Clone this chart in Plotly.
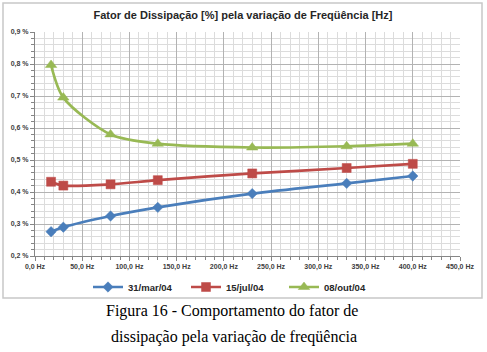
import plotly.graph_objects as go

freq = [17, 30, 80, 130, 230, 330, 400]
mar04 = [0.276, 0.290, 0.325, 0.352, 0.395, 0.427, 0.450]
jul04 = [0.432, 0.420, 0.424, 0.437, 0.458, 0.475, 0.488]
out04 = [0.797, 0.695, 0.580, 0.551, 0.539, 0.543, 0.551]
series_names = ["31/mar/04", "15/jul/04", "08/out/04"]
colors = ["#4A7EBB", "#BE4B48", "#98B954"]
marker_syms = ["diamond", "square", "triangle-up"]
marker_sizes = [8, 9, 10]
xticks = [0, 50, 100, 150, 200, 250, 300, 350, 400, 450]
xtick_text = ["0,0 Hz", "50,0 Hz", "100,0 Hz", "150,0 Hz", "200,0 Hz", "250,0 Hz",
              "300,0 Hz", "350,0 Hz", "400,0 Hz", "450,0 Hz"]
yticks = [0.2, 0.3, 0.4, 0.5, 0.6, 0.7, 0.8, 0.9]
ytick_text = ["0,2 %", "0,3 %", "0,4 %", "0,5 %", "0,6 %", "0,7 %", "0,8 %", "0,9 %"]

W, H = 487, 352
L, R, T, B = 35, 460, 32, 256  # plot area pixels

def px(x):
    return (x - L) / (R - L)

def py(y):
    return (B - y) / (B - T)

fig = go.Figure()
for ys, name, c, s, ms in zip([mar04, jul04, out04], series_names, colors, marker_syms, marker_sizes):
    fig.add_trace(go.Scatter(
        x=freq, y=ys, name=name, mode="lines+markers",
        line=dict(color=c, width=2.7, shape="spline", smoothing=0.8),
        marker=dict(symbol=s, size=ms, color=c, line=dict(color=c, width=0.5)),
    ))

fig.update_layout(
    width=W, height=H,
    margin=dict(l=L, r=W - R, t=T, b=H - B),
    paper_bgcolor="white", plot_bgcolor="white",
    title=dict(text="<b>Fator de Dissipação [%] pela variação de Freqüência [Hz]</b>",
               x=(243) / W, xanchor="center", y=1 - 15 / H, yanchor="middle",
               font=dict(family="Liberation Sans", size=11, color="#262626")),
    showlegend=True,
    legend=dict(orientation="h", x=px(88), xanchor="left", y=py(287), yanchor="middle",
                font=dict(family="Liberation Sans", size=9.5, color="#262626", weight="bold"),
                bgcolor="rgba(0,0,0,0)", itemwidth=30, entrywidth=53),
    font=dict(family="Liberation Sans"),
)

fig.update_xaxes(
    range=[0, 450], tickvals=xticks, ticktext=xtick_text,
    tickfont=dict(size=7, color="#404040", family="Liberation Sans", weight="bold"),
    showgrid=True, gridcolor="#B3B3B3", gridwidth=1,
    showline=True, linecolor="#868686", linewidth=1,
    ticks="outside", ticklen=4, tickcolor="#868686",
    minor=dict(dtick=10, showgrid=True, gridcolor="#DCDCDC", ticks="outside", ticklen=3, tickcolor="#868686"),
    zeroline=False, mirror=False,
)
fig.update_yaxes(
    range=[0.2, 0.9], tickvals=yticks, ticktext=ytick_text,
    tickfont=dict(size=7, color="#404040", family="Liberation Sans", weight="bold"),
    showgrid=True, gridcolor="#B3B3B3", gridwidth=1,
    showline=True, linecolor="#868686", linewidth=1,
    ticks="outside", ticklen=4, tickcolor="#868686",
    minor=dict(dtick=0.02, showgrid=True, gridcolor="#DCDCDC", ticks="outside", ticklen=3, tickcolor="#868686"),
    zeroline=False,
)

# chart border
fig.add_shape(type="rect", xref="paper", yref="paper",
              x0=px(3), x1=px(482), y0=py(298), y1=py(3),
              line=dict(color="#C8C8C8", width=1.5), layer="below")

# caption
fig.add_annotation(text="Figura 16 - Comportamento do fator de", xref="paper", yref="paper",
                   x=px(232), y=py(311), xanchor="center", yanchor="middle", showarrow=False,
                   font=dict(family="Liberation Serif", size=16, color="black"))
fig.add_annotation(text="dissipação pela variação de freqüência", xref="paper", yref="paper",
                   x=px(234), y=py(337), xanchor="center", yanchor="middle", showarrow=False,
                   font=dict(family="Liberation Serif", size=16, color="black"))

fig.write_html("out.html")
